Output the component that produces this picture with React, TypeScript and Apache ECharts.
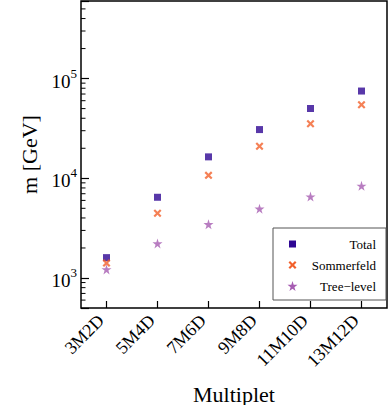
import { useEffect, useRef } from 'react';
import * as echarts from 'echarts';

const categories = ['3M2D', '5M4D', '7M6D', '9M8D', '11M10D', '13M12D'];
const totalValues = [1600, 6450, 16400, 30800, 50100, 75000];
const sommerfeldValues = [1410, 4460, 10700, 21000, 35200, 54600];
const treeLevelValues = [1220, 2220, 3460, 4950, 6550, 8400];
const seriesNames = ['Total', 'Sommerfeld', 'Tree\u2212level'];
const seriesColors = ['#2e0693', '#f2602b', '#a65db2'];
const yMin = 500;
const yMax = 600000;
const yMinorTicks = [
  600, 700, 800, 900,
  2000, 3000, 4000, 5000, 6000, 7000, 8000, 9000,
  20000, 30000, 40000, 50000, 60000, 70000, 80000, 90000,
  200000, 300000, 400000, 500000,
];

const FONT = "'Liberation Serif', 'DejaVu Serif', serif";

const starPts = [[50, 0], [61.2, 34.55], [97.55, 34.55], [68.15, 55.9], [79.4, 90.45], [50, 69.1], [20.6, 90.45], [31.85, 55.9], [2.45, 34.55], [38.8, 34.55]];
const crossPts = [[0, 1.9], [1.9, 0], [5, 3.1], [8.1, 0], [10, 1.9], [6.9, 5], [10, 8.1], [8.1, 10], [5, 6.9], [1.9, 10], [0, 8.1], [3.1, 5]];

const toPath = (pts: number[][]) => 'path://M' + pts.map((p) => p.join(',')).join('L') + 'Z';
const toPoly = (pts: number[][], cx: number, cy: number, size: number) => {
  const xs = pts.map((p) => p[0]);
  const ys = pts.map((p) => p[1]);
  const minX = Math.min(...xs), maxX = Math.max(...xs);
  const minY = Math.min(...ys), maxY = Math.max(...ys);
  return pts.map((p) => [
    cx - size / 2 + ((p[0] - minX) / (maxX - minX)) * size,
    cy - size / 2 + ((p[1] - minY) / (maxY - minY)) * size,
  ]);
};

export default function App() {
  const ref = useRef<HTMLDivElement>(null);
  useEffect(() => {
    if (!ref.current) return;
    const chart = echarts.init(ref.current, null, { renderer: 'svg' });
    const legX = 273, legY = 228, legW = 113, legH = 72;
    const iconX = 292.5;
    const textX = 376;
    const rowY = [244, 265, 286];
    chart.setOption({
      animation: false,
      backgroundColor: '#fff',
      grid: {
        left: 81, right: 2, top: 1, bottom: 97,
        containLabel: false,
        outerBoundsMode: 'none',
        show: true, borderColor: '#000', borderWidth: 1.5, backgroundColor: 'transparent',
      },
      xAxis: {
        type: 'category',
        data: categories,
        boundaryGap: true,
        axisLine: { show: false },
        axisTick: { show: true, alignWithLabel: true, inside: true, length: 7, lineStyle: { color: '#000', width: 1.2 } },
        axisLabel: {
          interval: 0, rotate: 45, fontSize: 18, fontFamily: FONT, color: '#000',
          margin: 4, padding: [0, 8, 0, 0],
        },
        splitLine: { show: false },
        name: 'Multiplet',
        nameLocation: 'middle',
        nameGap: 75,
        nameTextStyle: { fontSize: 22, fontFamily: FONT, color: '#000' },
      },
      yAxis: {
        type: 'log',
        logBase: 10,
        min: yMin,
        max: yMax,
        axisLine: { show: false },
        axisTick: { show: true, inside: true, length: 8, lineStyle: { color: '#000', width: 1.2 } },
        splitLine: { show: false },
        minorTick: { show: false },
        axisLabel: {
          margin: 4,
          color: '#000',
          fontFamily: FONT,
          formatter: (v: number) => {
            const e = Math.log10(v);
            const r = Math.round(e);
            if (Math.abs(e - r) < 1e-6) return `{b|10}{s|${r}}`;
            return '';
          },
          rich: {
            b: { fontSize: 19, fontFamily: FONT, color: '#000', lineHeight: 24, verticalAlign: 'bottom' },
            s: { fontSize: 13, fontFamily: FONT, color: '#000', lineHeight: 14, verticalAlign: 'top' },
          },
        },
        name: 'm [GeV]',
        nameLocation: 'middle',
        nameGap: 36,
        nameTextStyle: { fontSize: 22, fontFamily: FONT, color: '#000' },
      },
      series: [
        {
          type: 'custom',
          silent: true,
          data: yMinorTicks.map((v) => [0, v]),
          encode: { x: 0, y: 1 },
          renderItem: (params: any, api: any) => {
            const y = api.coord([0, api.value(1)])[1];
            const x0 = params.coordSys.x;
            return {
              type: 'line',
              shape: { x1: x0, y1: y, x2: x0 + 4.5, y2: y },
              style: { stroke: '#000', lineWidth: 1 },
            };
          },
          z: 1,
        },
        {
          type: 'scatter', name: seriesNames[0], data: totalValues,
          symbol: 'rect', symbolSize: 7, itemStyle: { color: seriesColors[0] }, z: 3,
        },
        {
          type: 'scatter', name: seriesNames[1], data: sommerfeldValues,
          symbol: toPath(crossPts), symbolSize: 8, itemStyle: { color: seriesColors[1] }, z: 4,
        },
        {
          type: 'scatter', name: seriesNames[2], data: treeLevelValues,
          symbol: toPath(starPts), symbolSize: 10, itemStyle: { color: seriesColors[2] }, z: 5,
        },
      ],
      graphic: [
        {
          type: 'group',
          z: 100,
          children: [
            {
              type: 'rect',
              shape: { x: legX, y: legY, width: legW, height: legH },
              style: { fill: '#fff', stroke: '#555', lineWidth: 1 },
            },
            {
              type: 'rect',
              shape: { x: iconX - 3.5, y: rowY[0] - 3.5, width: 7, height: 7 },
              style: { fill: seriesColors[0] },
            },
            {
              type: 'polygon',
              shape: { points: toPoly(crossPts, iconX, rowY[1], 8) },
              style: { fill: seriesColors[1] },
            },
            {
              type: 'polygon',
              shape: { points: toPoly(starPts, iconX, rowY[2], 10) },
              style: { fill: seriesColors[2] },
            },
            ...seriesNames.map((n, i) => ({
              type: 'text',
              x: textX,
              y: rowY[i],
              style: {
                text: n, fill: '#000', font: `13px ${FONT}`,
                textAlign: 'right', textVerticalAlign: 'middle',
              },
            })),
          ],
        },
      ],
    });
    return () => chart.dispose();
  }, []);
  return <div ref={ref} style={{ width: 389, height: 405, position: 'absolute', left: 0, top: 0 }} />;
}
